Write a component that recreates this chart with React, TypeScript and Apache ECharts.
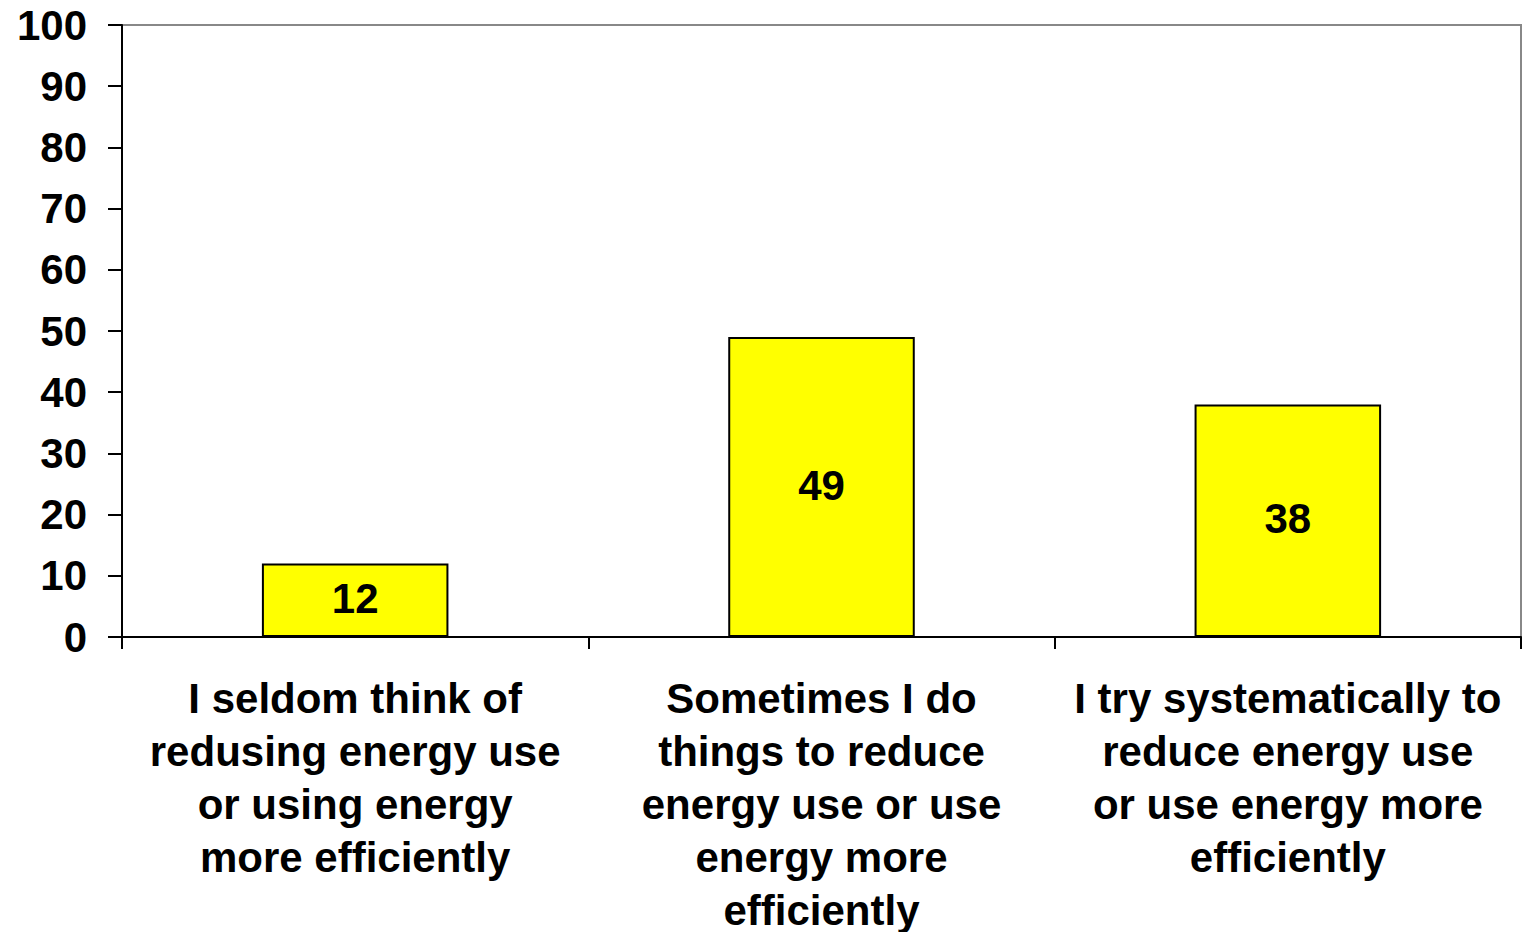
import React, { useEffect, useRef } from "react";
import * as echarts from "echarts";

const categories = [
  "I seldom think of\nredusing energy use\nor using energy\nmore efficiently",
  "Sometimes I do\nthings to reduce\nenergy use or use\nenergy more\nefficiently",
  "I try systematically to\nreduce energy use\nor use energy more\nefficiently",
];
const values = [12, 49, 38];
const yTicks = { min: 0, max: 100, interval: 10 };

const FONT = "'Liberation Sans', Arial, sans-serif";

export default function App() {
  const ref = useRef<HTMLDivElement>(null);
  useEffect(() => {
    if (!ref.current) return;
    const chart = echarts.init(ref.current, undefined, { renderer: "svg" });
    chart.setOption({
      animation: false,
      backgroundColor: "#ffffff",
      grid: {
        left: 122,
        right: 5,
        top: 25,
        bottom: 295,
        containLabel: false,
        outerBoundsMode: "none",
        show: true,
        borderColor: "#888888",
        borderWidth: 2,
        backgroundColor: "transparent",
      },
      xAxis: {
        type: "category",
        data: categories,
        axisLine: { show: true, lineStyle: { color: "#000", width: 2 } },
        axisTick: { show: true, alignWithLabel: false, length: 12, lineStyle: { color: "#000", width: 2 } },
        axisLabel: {
          interval: 0,
          color: "#000",
          fontFamily: FONT,
          fontWeight: "bold",
          fontSize: 42,
          lineHeight: 53,
          margin: 35,
          align: "center",
        },
        splitLine: { show: false },
      },
      yAxis: {
        type: "value",
        min: yTicks.min,
        max: yTicks.max,
        interval: yTicks.interval,
        axisLine: { show: true, lineStyle: { color: "#000", width: 2 } },
        axisTick: { show: true, length: 14, lineStyle: { color: "#000", width: 2 } },
        axisLabel: {
          color: "#000",
          fontFamily: FONT,
          fontWeight: "bold",
          fontSize: 42,
          margin: 35,
        },
        splitLine: { show: false },
      },
      series: [
        {
          type: "bar",
          data: values,
          barWidth: "40%",
          itemStyle: { color: "#FFFF00", borderColor: "#000", borderWidth: 2 },
          label: {
            show: true,
            position: "inside",
            offset: [0, -2],
            color: "#000",
            fontFamily: FONT,
            fontWeight: "bold",
            fontSize: 42,
          },
        },
      ],
    });
    return () => chart.dispose();
  }, []);
  return (
    <div
      ref={ref}
      style={{ position: "fixed", left: 0, top: 0, width: 1526, height: 932 }}
    />
  );
}
